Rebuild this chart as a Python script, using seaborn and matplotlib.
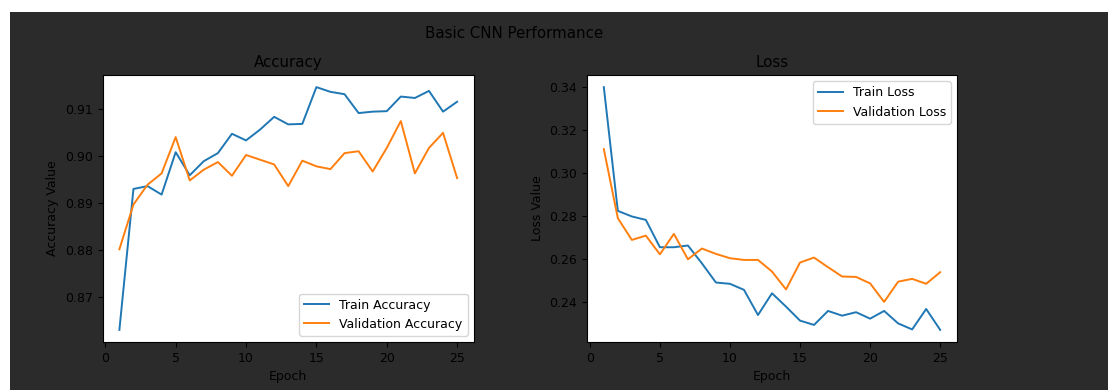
import matplotlib
matplotlib.use("Agg")
import matplotlib.pyplot as plt
from matplotlib.patches import Rectangle
import seaborn as sns

# Training history of the basic CNN, one value per epoch
epochs = list(range(1, 26))
train_acc = [0.8631, 0.8930, 0.8936, 0.8918, 0.9008, 0.8959, 0.8989, 0.9006, 0.9047,
             0.9033, 0.9056, 0.9083, 0.9067, 0.9068, 0.9146, 0.9136, 0.9131, 0.9091,
             0.9094, 0.9095, 0.9126, 0.9123, 0.9138, 0.9094, 0.9115]
val_acc = [0.8802, 0.8897, 0.8939, 0.8963, 0.9040, 0.8948, 0.8971, 0.8987, 0.8958,
           0.9002, 0.8992, 0.8982, 0.8936, 0.8990, 0.8978, 0.8972, 0.9006, 0.9010,
           0.8967, 0.9017, 0.9074, 0.8963, 0.9017, 0.9049, 0.8953]
train_loss = [0.3400, 0.2825, 0.2799, 0.2783, 0.2656, 0.2656, 0.2664, 0.2581, 0.2492,
              0.2486, 0.2458, 0.2341, 0.2442, 0.2380, 0.2315, 0.2295, 0.2360, 0.2338,
              0.2354, 0.2324, 0.2360, 0.2302, 0.2274, 0.2369, 0.2272]
val_loss = [0.3112, 0.2791, 0.2690, 0.2710, 0.2623, 0.2718, 0.2600, 0.2650, 0.2625,
            0.2605, 0.2597, 0.2597, 0.2543, 0.2460, 0.2585, 0.2608, 0.2563, 0.2520,
            0.2518, 0.2488, 0.2402, 0.2496, 0.2509, 0.2486, 0.2540]

plt.rcParams["font.size"] = 9
plt.rcParams["font.family"] = ["DejaVu Sans"]

W, H = 1108, 390
fig = plt.figure(figsize=(W / 100, H / 100), dpi=100, facecolor="#2b2b2b")

# white margin strips along the top and left edges
fig.patches.append(Rectangle((0, 1 - 12 / H), 1, 12 / H, transform=fig.transFigure,
                             facecolor="white", edgecolor="none"))
fig.patches.append(Rectangle((0, 0), 10 / W, 1, transform=fig.transFigure,
                             facecolor="white", edgecolor="none"))

bottom = 1 - 342 / H
height = (342 - 75) / H
ax1 = fig.add_axes([102.5 / W, bottom, (474 - 102.5) / W, height])
ax2 = fig.add_axes([587 / W, bottom, (957 - 587) / W, height])

lw = 1.4
sns.lineplot(x=epochs, y=train_acc, ax=ax1, label="Train Accuracy", color="#1f77b4", linewidth=lw)
sns.lineplot(x=epochs, y=val_acc, ax=ax1, label="Validation Accuracy", color="#ff7f0e", linewidth=lw)
ax1.set_title("Accuracy")
ax1.set_xlabel("Epoch")
ax1.set_ylabel("Accuracy Value")
ax1.set_yticks([0.87, 0.88, 0.89, 0.90, 0.91])
ax1.legend(loc="lower right")

sns.lineplot(x=epochs, y=train_loss, ax=ax2, label="Train Loss", color="#1f77b4", linewidth=lw)
sns.lineplot(x=epochs, y=val_loss, ax=ax2, label="Validation Loss", color="#ff7f0e", linewidth=lw)
ax2.set_title("Loss")
ax2.set_xlabel("Epoch")
ax2.set_ylabel("Loss Value")
ax2.set_yticks([0.24, 0.26, 0.28, 0.30, 0.32, 0.34])
ax2.legend(loc="upper right")

for ax in (ax1, ax2):
    ax.set_xticks([0, 5, 10, 15, 20, 25])
    ax.set_facecolor("white")

fig.suptitle("Basic CNN Performance", x=514 / W, y=1 - 33.5 / H, va="center", fontsize=10.8)

fig.savefig("out.png", dpi=100, facecolor=fig.get_facecolor())
